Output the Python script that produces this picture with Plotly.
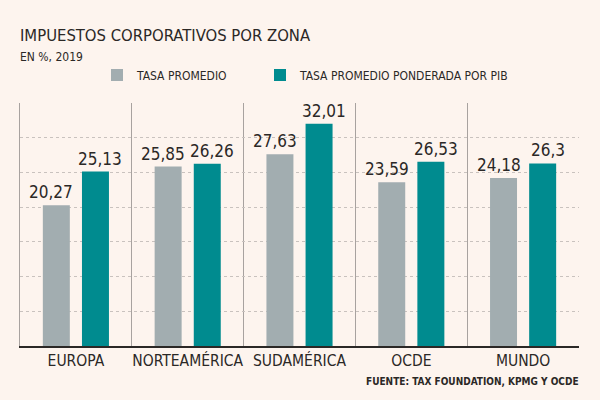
import plotly.graph_objects as go

categories = ["EUROPA", "NORTEAMÉRICA", "SUDAMÉRICA", "OCDE", "MUNDO"]
tasa_promedio = [20.27, 25.85, 27.63, 23.59, 24.18]
tasa_ponderada = [25.13, 26.26, 32.01, 26.53, 26.3]
series_names = ["TASA PROMEDIO", "TASA PROMEDIO PONDERADA POR PIB"]
title_text = "IMPUESTOS CORPORATIVOS POR ZONA"
subtitle_text = "EN %, 2019"
source_text = "FUENTE: TAX FOUNDATION, KPMG Y OCDE"

BG = "#fdf4ee"
GREY = "#a2adb0"
TEAL = "#008b8f"
DARK = "#2b2826"
FONT = "DejaVu Sans Condensed"

PLOT_LEFT, PLOT_RIGHT = 20, 579
PLOT_TOP, PLOT_BOT = 103, 346
BARGAP = 0.30
def py(px):
    return (PLOT_BOT - px) / (PLOT_BOT - PLOT_TOP)
def px_(x):
    return (x - PLOT_LEFT) / (PLOT_RIGHT - PLOT_LEFT)

def fmt(v):
    return f"{v:g}".replace(".", ",")

cat_w = (PLOT_RIGHT - PLOT_LEFT) / len(categories)
bar_off = cat_w * (1 - BARGAP) / 4     # offset of each bar from its category center
label_nudge = 5                        # labels pushed slightly outward

legend_x = [97, 260]
fig = go.Figure()
series = [(series_names[0], tasa_promedio, GREY, -1), (series_names[1], tasa_ponderada, TEAL, 1)]
annotations = []
for i, (name, vals, col, side) in enumerate(series):
    fig.add_trace(go.Bar(
        x=categories, y=vals, name=name, marker=dict(color=col, line=dict(width=0)),
        legend="legend" if i == 0 else "legend2", hoverinfo="x+y",
    ))
    for c, v in zip(categories, vals):
        annotations.append(dict(
            x=c, y=v, xref="x", yref="y", text=fmt(v), showarrow=False,
            xanchor="center", yanchor="bottom", yshift=1,
            xshift=side * (bar_off + label_nudge),
            font=dict(family=FONT, size=17, color=DARK)))

leg_common = dict(orientation="h", xanchor="left", y=py(75), yanchor="middle",
                  font=dict(size=12, color=DARK), bgcolor="rgba(0,0,0,0)",
                  borderwidth=0)

annotations += [
    dict(text=subtitle_text, x=0, xref="paper", xanchor="left", xshift=-2,
         y=py(57.5), yref="paper", yanchor="middle", showarrow=False,
         font=dict(size=12, color=DARK)),
    dict(text="<b>" + source_text + "</b>", x=1, xref="paper", xanchor="right", xshift=2,
         y=py(381), yref="paper", yanchor="middle", showarrow=False,
         font=dict(size=10, color=DARK)),
]

fig.update_layout(
    width=600, height=400, paper_bgcolor=BG, plot_bgcolor=BG,
    margin=dict(l=PLOT_LEFT, r=600 - PLOT_RIGHT, t=PLOT_TOP, b=400 - PLOT_BOT, autoexpand=False),
    barmode="group", bargap=BARGAP, bargroupgap=0.31,
    font=dict(family=FONT, color=DARK),
    showlegend=True,
    legend=dict(x=px_(legend_x[0]), **leg_common),
    legend2=dict(x=px_(legend_x[1]), **leg_common),
    title=dict(text=title_text, x=20/600, xref="container", xanchor="left",
               y=1-35.5/400, yref="container", yanchor="middle",
               font=dict(size=16.5, color=DARK, family=FONT)),
    annotations=annotations,
)

fig.update_xaxes(tickson="boundaries", showgrid=True, gridcolor="#a8a29f", gridwidth=1,
                 showline=True, linecolor=DARK, linewidth=1.5, ticks="", tickangle=0,
                 automargin=False,
                 tickfont=dict(size=15.5, color=DARK), fixedrange=True)
fig.update_yaxes(range=[0, 35], dtick=5, showticklabels=False, showgrid=True,
                 gridcolor="#c9c2be", griddash="dot", gridwidth=1, zeroline=False,
                 showline=True, linecolor="#a8a29f", linewidth=1, fixedrange=True)

fig.write_html("out.html")
